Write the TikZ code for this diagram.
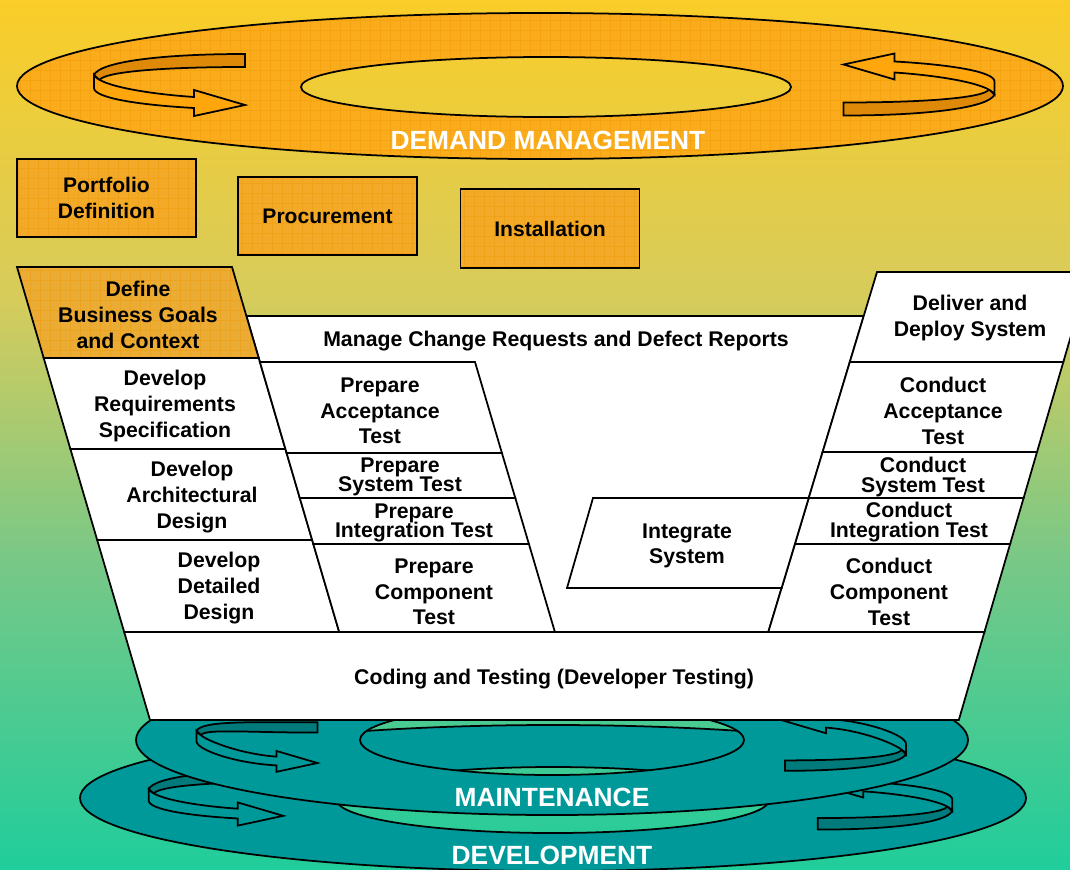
\documentclass[tikz,border=0pt]{standalone}
\usepackage{fontspec}
\setmainfont{Liberation Sans}
\usetikzlibrary{positioning}
\definecolor{bgtop}{RGB}{250,205,40}
\definecolor{bgmid}{RGB}{214,204,92}
\definecolor{bglow}{RGB}{120,200,135}
\definecolor{bgend}{RGB}{32,205,155}
\definecolor{amberring}{RGB}{251,172,28}
\definecolor{amberfront}{RGB}{255,166,12}
\definecolor{amberback}{RGB}{222,138,8}
\definecolor{amberbox}{RGB}{243,170,40}
\definecolor{amberdef}{RGB}{234,172,52}
\definecolor{gridline}{RGB}{240,150,0}
\definecolor{tealring}{RGB}{0,153,153}
\definecolor{tealback}{RGB}{0,122,122}
\tikzset{outline/.style={draw=black,line width=1pt},
  gridfill/.style={path picture={\draw[gridline,line width=0.3pt,opacity=.4] (path picture bounding box.south west) grid[step=0.2cm] (path picture bounding box.north east);}},
  ring/.style={outline,even odd rule},
  stage/.style={outline,fill=white},
  ambox/.style={outline,fill=amberbox,gridfill,minimum width=3.58cm,minimum height=1.57cm,font=\bfseries\fontsize{12}{14.7}\selectfont,align=center},
  lbl/.style={font=\bfseries\fontsize{12.1}{14.7}\selectfont,align=center,inner sep=0pt,yshift=-1.1pt},
  tight/.style={lbl,font=\bfseries\fontsize{12.1}{11.3}\selectfont},
  ringlbl/.style={font=\bfseries\fontsize{15}{18}\selectfont,text=white,inner sep=0pt},
  % #3 lifts the curled end, #4 lifts the head
  pics/curl/.style n args={4}{code={
    \draw[outline,fill=#1] (75.5,-31) -- (75.5,-18) .. controls (-10,-18) and (-65,{-13-#3}) .. (-70,{-5-#3}) -- (-75.5,{-10-#3}) .. controls (-70,{-23-#3}) and (-10,-31) .. (75.5,-31) -- cycle;
    \draw[outline,fill=#2] (-75.5,{-10-#3}) .. controls (-70,{1-#3}) and (-20,{9+#4}) .. (24.5,{12+#4}) -- (24.5,{5+#4}) -- (75.5,{20+#4}) -- (24.5,{31+#4}) -- (24.5,{23+#4}) .. controls (-30,{20+#4}) and (-75.5,{13-#3}) .. (-75.5,{3-#3}) -- cycle;
  }}}
\begin{document}
\begin{tikzpicture}[x=0.02cm,y=-0.02cm,line join=miter]
\useasboundingbox (0,0) rectangle (1070,869);
\clip (0,0) rectangle (1070,869);
% background
\shade[top color=bgtop,bottom color=bgmid] (0,0) rectangle (1070,301);
\shade[top color=bgmid,bottom color=bglow] (0,300) rectangle (1070,561);
\shade[top color=bglow,bottom color=bgend] (0,560) rectangle (1070,869);
% demand management
\draw[ring,fill=amberring,gridfill] (540,86) ellipse [x radius=523,y radius=73] (546,87) ellipse [x radius=245,y radius=30];
\pic at (169.5,85) {curl={amberback}{amberfront}{0}{0}};
\pic[rotate=180] at (919,84.5) {curl={amberback}{amberfront}{0}{0}};
\node[ringlbl] (demand) at (548,140) {DEMAND MANAGEMENT};
\node[ambox] (portfolio) at (106.5,198) {Portfolio\\Definition};
\node[ambox] (procure) at (327.5,216) {Procurement};
\node[ambox] (install) at (550,228.5) {Installation};
% development and maintenance rings
\draw[ring,fill=tealring] (553,798) ellipse [x radius=473,y radius=73] (553,800) ellipse [x radius=216,y radius=33];
\pic[scale=0.89] at (216,798) {curl={tealback}{tealring}{0}{0}};
\pic[rotate=180,scale=0.89] at (885,802) {curl={tealback}{tealring}{0}{0}};
\draw[ring,fill=tealring] (552,740) ellipse [x radius=416,y radius=75] (552,740) ellipse [x radius=192,y radius=35];
\pic[scale=0.8] at (257,747) {curl={tealback}{tealring}{10}{0}};
\pic[rotate=180,scale=0.8] at (845.5,746) {curl={tealback}{tealring}{0}{11}};
\node[ringlbl] (maint) at (552,797) {MAINTENANCE};
\node[ringlbl] (devel) at (552,855) {DEVELOPMENT};
% the V
\draw[stage] (246.4,316) -- (863.7,316) -- (768.3,632) -- (339.2,632) -- cycle;
\draw[outline,fill=amberdef,gridfill] (17,267) -- (232,267) -- (258.7,358) -- (43.7,358) -- cycle;
\draw[stage] (43.7,358) -- (258.7,358) -- (285.4,449) -- (70.4,449) -- cycle;
\draw[stage] (70.4,449) -- (285.4,449) -- (312.2,540) -- (97.2,540) -- cycle;
\draw[stage] (97.2,540) -- (312.2,540) -- (339.2,632) -- (124.2,632) -- cycle;
\draw[stage] (259.9,362) -- (475,362) -- (501.9,453) -- (286.6,453) -- cycle;
\draw[stage] (286.6,453) -- (501.9,453) -- (515.3,498) -- (299.8,498) -- cycle;
\draw[stage] (299.8,498) -- (515.3,498) -- (528.9,544) -- (313.3,544) -- cycle;
\draw[stage] (313.3,544) -- (528.9,544) -- (554.9,632) -- (339.2,632) -- cycle;
\draw[stage] (877,272) -- (1089.6,272) -- (1063.3,362) -- (849.8,362) -- cycle;
\draw[stage] (849.8,362) -- (1063.3,362) -- (1037,452) -- (822.6,452) -- cycle;
\draw[stage] (822.6,452) -- (1037,452) -- (1023.6,498) -- (808.7,498) -- cycle;
\draw[stage] (808.7,498) -- (1023.6,498) -- (1010.1,544) -- (794.9,544) -- cycle;
\draw[stage] (794.9,544) -- (1010.1,544) -- (984.4,632) -- (768.3,632) -- cycle;
\draw[stage] (593,498) -- (808.7,498) -- (781.6,588) -- (567,588) -- cycle;
\draw[stage] (124.2,632) -- (984.4,632) -- (958.8,720) -- (150,720) -- cycle;
% labels
\node[lbl] (goals) at (138,313) {Define\\Business Goals\\and Context};
\node[lbl] (manage) at (556,339) {Manage Change Requests and Defect Reports};
\node[lbl] (req) at (165,404) {Develop\\Requirements\\Specification};
\node[lbl] (arch) at (192,495) {Develop\\Architectural\\Design};
\node[lbl] (detail) at (219,586) {Develop\\Detailed\\Design};
\node[lbl] (prepacc) at (380,409) {Prepare\\Acceptance\\Test};
\node[tight] (prepsys) at (400,475) {Prepare\\System Test};
\node[tight] (prepint) at (414,521) {Prepare\\Integration Test};
\node[lbl] (prepcomp) at (434,590) {Prepare\\Component\\Test};
\node[lbl] (integ) at (687,544) {Integrate\\System};
\node[lbl] (deliver) at (970,316) {Deliver and\\Deploy System};
\node[lbl] (condacc) at (943,409) {Conduct\\Acceptance\\Test};
\node[tight] (condsys) at (923,475) {Conduct\\System Test};
\node[tight] (condint) at (909,520) {Conduct\\Integration Test};
\node[lbl] (condcomp) at (889,590) {Conduct\\Component\\Test};
\node[lbl] (coding) at (554,677) {Coding and Testing (Developer Testing)};
\end{tikzpicture}
\end{document}
